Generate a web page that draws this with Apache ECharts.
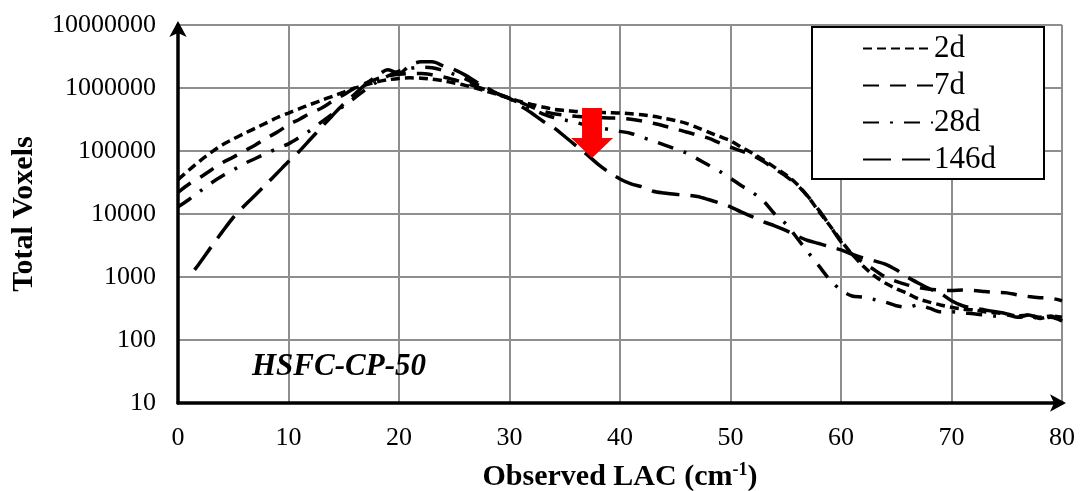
<!DOCTYPE html>
<html>
<head>
<meta charset="utf-8">
<script src="https://cdn.jsdelivr.net/npm/echarts@6/dist/echarts.min.js"></script>
<style>
  html, body { margin: 0; padding: 0; background: #fff; }
  #chart { width: 1081px; height: 491px; }
</style>
</head>
<body>
<div id="chart"></div>
<script>
// Observed LAC (cm-1) sampled every 1 unit
const lac = [];
for (let i = 0; i <= 80; i++) lac.push(i);
// 146d curve starts a little later
const lac146 = [1.5].concat(lac.slice(2));

const vox2d = [
  35000, 50000, 70000, 95000, 125000, 155000, 190000, 230000, 280000, 340000,
  400000, 470000, 550000, 640000, 740000, 860000, 1000000, 1120000, 1250000, 1350000,
  1420000, 1450000, 1430000, 1380000, 1300000, 1200000, 1100000, 990000, 880000, 780000,
  690000, 610000, 550000, 500000, 460000, 440000, 425000, 415000, 410000, 405000,
  400000, 390000, 375000, 355000, 330000, 305000, 275000, 235000, 200000, 170000,
  145000, 115000, 92000, 72000, 55000, 42000, 30000, 19000, 11000, 6500,
  3800, 2300, 1500, 1050, 800, 650, 550, 450, 400, 360,
  330, 310, 300, 280, 270, 260, 240, 250, 230, 240, 200
];
const vox7d = [
  22000, 30000, 38000, 50000, 65000, 80000, 100000, 125000, 160000, 200000,
  260000, 320000, 400000, 480000, 620000, 780000, 1000000, 1200000, 1400000, 1550000,
  1650000, 1700000, 1700000, 1620000, 1500000, 1350000, 1200000, 1050000, 920000, 800000,
  690000, 590000, 500000, 430000, 390000, 370000, 355000, 345000, 340000, 335000,
  330000, 320000, 300000, 275000, 250000, 225000, 200000, 180000, 160000, 135000,
  115000, 100000, 85000, 68000, 52000, 40000, 29000, 19000, 11500, 6500,
  3600, 2300, 1700, 1300, 1000, 850, 750, 680, 640, 620,
  610, 620, 610, 590, 570, 560, 520, 490, 470, 460, 420
];
const vox28d = [
  13000, 17000, 23000, 31000, 40000, 50000, 63000, 76000, 92000, 110000,
  130000, 165000, 215000, 290000, 390000, 520000, 700000, 950000, 1250000, 1550000,
  1850000, 2050000, 2150000, 2100000, 1900000, 1650000, 1400000, 1150000, 950000, 800000,
  680000, 570000, 470000, 390000, 340000, 310000, 285000, 255000, 235000, 220000,
  205000, 190000, 165000, 145000, 125000, 108000, 93000, 75000, 60000, 48000,
  37000, 28000, 22000, 16000, 10000, 7000, 4200, 2500, 1500, 900,
  620, 500, 480, 440, 400, 350, 330, 360, 320, 280,
  280, 270, 260, 250, 240, 250, 230, 240, 220, 230, 200
];
const vox146d = [
  1300, 1700, 3000, 5200, 8800, 13500, 20000, 30000, 45000,
  68000, 100000, 155000, 240000, 370000, 560000, 800000, 1150000, 1550000, 1950000,
  1700000, 2300000, 2600000, 2600000, 2250000, 1950000, 1600000, 1250000, 1000000, 800000,
  680000, 520000, 400000, 300000, 235000, 170000, 122000, 88000, 62000, 46000,
  36000, 30000, 27000, 23000, 21500, 20500, 20000, 19000, 17000, 15000,
  13000, 10700, 9000, 7500, 6500, 5500, 4500, 3800, 3400, 3000,
  2700, 2300, 2000, 1800, 1600, 1300, 1000, 800, 650, 550,
  420, 350, 320, 300, 280, 260, 230, 250, 220, 240, 230
];

const seriesNames = ['2d', '7d', '28d', '146d'];
const yTickLabels = ['10', '100', '1000', '10000', '100000', '1000000', '10000000'];
const xTickLabels = ['0', '10', '20', '30', '40', '50', '60', '70', '80'];

// Marker arrow at the 146d drop
const arrowAt = [37.47, 193000];

const serif = 'Liberation Serif';
const pairs = (xs, ys) => ys.map((v, i) => [xs[i], v]);

const dashStyles = [
  [9, 5],
  [16, 11],
  [16, 11, 3, 11],
  [28, 11]
];

const chart = echarts.init(document.getElementById('chart'));

const series = [vox2d, vox7d, vox28d, vox146d].map((vals, k) => ({
  name: seriesNames[k],
  type: 'line',
  data: pairs(k === 3 ? lac146 : lac, vals),
  symbol: 'none',
  smooth: 0.3,
  lineStyle: { color: '#000', width: 3.5, type: dashStyles[k] },
  itemStyle: { color: '#000' },
  z: 3
}));

series[3].markPoint = {
  silent: true,
  symbol: 'path://M11,0 L31,0 L31,30 L42,30 L21,50 L0,30 L11,30 Z',
  symbolSize: [42, 50],
  itemStyle: { color: '#ff0000' },
  label: { show: false },
  data: [{ coord: arrowAt }]
};

chart.setOption({
  animation: false,
  backgroundColor: '#fff',
  grid: { left: 178, right: 19, top: 25, bottom: 88, containLabel: false, outerBoundsMode: 'none' },
  xAxis: {
    type: 'value',
    min: 0, max: 80, interval: 10,
    name: '{a|Observed LAC (cm}{s|-1}{a|)}',
    nameLocation: 'middle',
    nameGap: 58,
    nameTextStyle: {
      rich: {
        a: { fontFamily: serif, fontWeight: 'bold', fontSize: 30, color: '#000' },
        s: { fontFamily: serif, fontWeight: 'bold', fontSize: 18, color: '#000', padding: [0, 0, 14, 0] }
      }
    },
    axisLine: {
      show: true,
      lineStyle: { color: '#000', width: 3.5 },
      symbol: ['none', 'arrow'],
      symbolSize: [13, 16],
      symbolOffset: [0, 4]
    },
    axisTick: { show: false },
    axisLabel: {
      margin: 22,
      fontFamily: serif, fontSize: 26, color: '#000',
      formatter: v => xTickLabels[Math.round(v / 10)]
    },
    splitLine: { show: true, lineStyle: { color: '#8e8e8e', width: 2 } }
  },
  yAxis: {
    type: 'log',
    logBase: 10,
    min: 10, max: 10000000,
    name: 'Total Voxels',
    nameLocation: 'middle',
    nameGap: 139,
    nameRotate: 90,
    nameTextStyle: { fontFamily: serif, fontWeight: 'bold', fontSize: 30, color: '#000' },
    axisLine: {
      show: true,
      lineStyle: { color: '#000', width: 3.5 },
      symbol: ['none', 'arrow'],
      symbolSize: [13, 16],
      symbolOffset: [0, 4]
    },
    axisTick: { show: false },
    axisLabel: {
      margin: 22,
      fontFamily: serif, fontSize: 26, color: '#000',
      formatter: v => yTickLabels[Math.round(Math.log10(v)) - 1]
    },
    splitLine: { show: true, lineStyle: { color: '#8e8e8e', width: 2 } }
  },
  legend: {
    orient: 'vertical',
    left: 812,
    top: 27,
    padding: [6, 48, 4, 50],
    itemWidth: 70,
    itemHeight: 14,
    itemGap: 6,
    backgroundColor: '#fff',
    borderColor: '#000',
    borderWidth: 2,
    borderRadius: 0,
    itemStyle: { color: 'rgba(0,0,0,0)', borderColor: 'rgba(0,0,0,0)', borderWidth: 0 },
    textStyle: { fontFamily: serif, fontSize: 31, color: '#000', padding: [0, 0, 0, -4] },
    data: seriesNames
  },
  graphic: [{
    type: 'text',
    left: 252,
    top: 351,
    style: {
      text: 'HSFC-CP-50',
      font: 'italic bold 31px "Liberation Serif"',
      fill: '#000'
    },
    z: 10
  }],
  series: series
});
</script>
</body>
</html>
